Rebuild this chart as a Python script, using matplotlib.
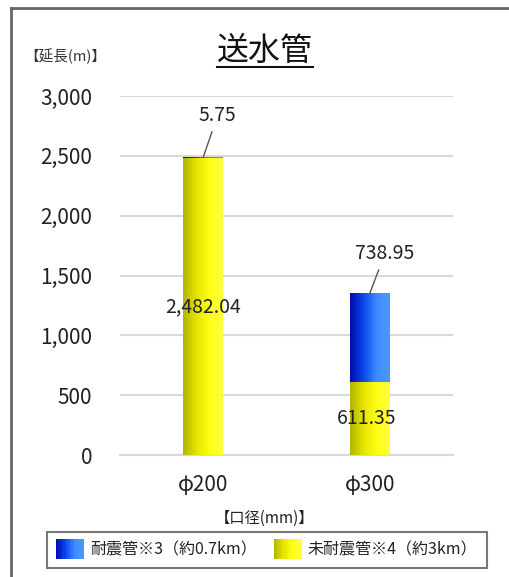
import numpy as np
import matplotlib
matplotlib.use("Agg")
import matplotlib.pyplot as plt
from matplotlib.colors import LinearSegmentedColormap
from matplotlib.lines import Line2D
from matplotlib.patches import Rectangle
from matplotlib.legend_handler import HandlerBase

plt.rcParams['font.family'] = ['Noto Sans CJK JP', 'DejaVu Sans']

categories = ["φ200", "φ300"]
resistant = [5.75, 738.95]         # 耐震管
non_resistant = [2482.04, 611.35]  # 未耐震管
series_names = ["耐震管※3（約0.7km）", "未耐震管※4（約3km）"]
yticks = [0, 500, 1000, 1500, 2000, 2500, 3000]

yellow_cmap = LinearSegmentedColormap.from_list("yel", ["#b4b400", "#e4e400", "#ffff14", "#ffff40"])
blue_cmap = LinearSegmentedColormap.from_list("blu", ["#000cb0", "#0c46ec", "#3a8cff", "#4a98ff"])

W, H = 510, 577
fig = plt.figure(figsize=(W / 100, H / 100), dpi=100)
ax = fig.add_axes([120 / W, 1 - 455 / H, 333 / W, 359 / H])

x = np.arange(len(categories))
bw = 0.24
grad = np.linspace(0, 1, 64).reshape(1, -1)


def gradient_bars(bars, cmap):
    for b in bars:
        x0, y0 = b.get_x(), b.get_y()
        w, h = b.get_width(), b.get_height()
        if h <= 0:
            continue
        im = ax.imshow(grad, cmap=cmap, aspect='auto', extent=(x0, x0 + w, y0, y0 + h),
                       zorder=3, interpolation='bicubic')
        im.set_clip_path(b)
        b.set_facecolor('none')


bars_y = ax.bar(x, non_resistant, bw, color='#e4e400', zorder=2, linewidth=0)
bars_b = ax.bar(x, resistant, bw, bottom=non_resistant, color='#1050f0', zorder=2, linewidth=0)
gradient_bars(bars_y, yellow_cmap)
gradient_bars(bars_b, blue_cmap)

ax.set_xlim(-0.5, 1.5)
ax.set_ylim(0, 3000)
ax.set_yticks(yticks)
ax.set_yticklabels([f"{v:,}" for v in yticks], fontsize=15, color='#222222')
ax.set_xticks(x)
ax.set_xticklabels(categories, fontsize=15, color='#222222')
ax.tick_params(axis='both', length=0)
ax.tick_params(axis='y', pad=20)
ax.tick_params(axis='x', pad=14)
ax.grid(axis='y', color='#d9d9d9', linewidth=1.5, zorder=0)
ax.set_axisbelow(True)
for s in ['top', 'right', 'left']:
    ax.spines[s].set_visible(False)
ax.spines['bottom'].set_color('#d9d9d9')
ax.spines['bottom'].set_linewidth(1.5)

# data labels
tot = [a + b for a, b in zip(non_resistant, resistant)]
ax.annotate(f"{resistant[0]:,.2f}", xy=(x[0], tot[0]), xytext=(x[0] + 0.085, 2835),
            ha='center', va='center', fontsize=14, color='#222222',
            arrowprops=dict(arrowstyle='-', color='#555555', lw=1, shrinkA=2, shrinkB=0), zorder=5)
ax.annotate(f"{resistant[1]:,.2f}", xy=(x[1], tot[1]), xytext=(x[1] + 0.09, 1680),
            ha='center', va='center', fontsize=14, color='#222222',
            arrowprops=dict(arrowstyle='-', color='#555555', lw=1, shrinkA=2, shrinkB=0), zorder=5)
ax.text(x[0], 1237, f"{non_resistant[0]:,.2f}", ha='center', va='center', fontsize=14,
        color='#222222', zorder=5)
ax.text(x[1] - 0.02, 309, f"{non_resistant[1]:,.2f}", ha='center', va='center', fontsize=14,
        color='#222222', zorder=5)

# titles
title = fig.text(265 / W, 1 - 51 / H, "送水管", ha='center', va='center', fontsize=23, color='#111111')
fig.text(65 / W, 1 - 56 / H, "【延長(m)】", ha='center', va='center', fontsize=10.5, color='#333333')
fig.text(265 / W, 1 - 518 / H, "【口径(mm)】", ha='center', va='center', fontsize=11, color='#222222')


class GradHandler(HandlerBase):
    def __init__(self, cmap):
        super().__init__()
        self.cmap = cmap

    def create_artists(self, legend, orig_handle, xdescent, ydescent, width, height, fontsize, trans):
        n = 20
        arts = []
        for i in range(n):
            r = Rectangle((-xdescent + width * i / n, -ydescent - 2), width / n + 0.3, height + 4,
                          facecolor=self.cmap((i + 0.5) / n), edgecolor='none', transform=trans)
            arts.append(r)
        return arts


hb = Rectangle((0, 0), 1, 1)
hy = Rectangle((0, 0), 1, 1)
leg = fig.legend([hb, hy], series_names, loc='center', bbox_to_anchor=(267 / W, 1 - 550 / H),
                 ncol=2, fontsize=11.5, frameon=True, fancybox=False, edgecolor='#555555',
                 handler_map={hb: GradHandler(blue_cmap), hy: GradHandler(yellow_cmap)},
                 handlelength=1.7, handleheight=1.0, handletextpad=0.4, columnspacing=1.1,
                 borderpad=0.6, labelcolor='#222222')
leg.get_frame().set_linewidth(1.5)

# outer frame
fig.add_artist(Line2D([11 / W, 1], [1 - 8 / H, 1 - 8 / H], color='#666666', lw=2, transform=fig.transFigure))
fig.add_artist(Line2D([11 / W, 11 / W], [0, 1 - 8 / H], color='#666666', lw=2, transform=fig.transFigure))

# underline for title
fig.canvas.draw()
bb = title.get_window_extent().transformed(fig.transFigure.inverted())
fig.add_artist(Line2D([bb.x0, bb.x1], [1 - 67 / H, 1 - 67 / H], color='#111111', lw=1.5,
                      transform=fig.transFigure))

fig.savefig("out.png", dpi=100)
